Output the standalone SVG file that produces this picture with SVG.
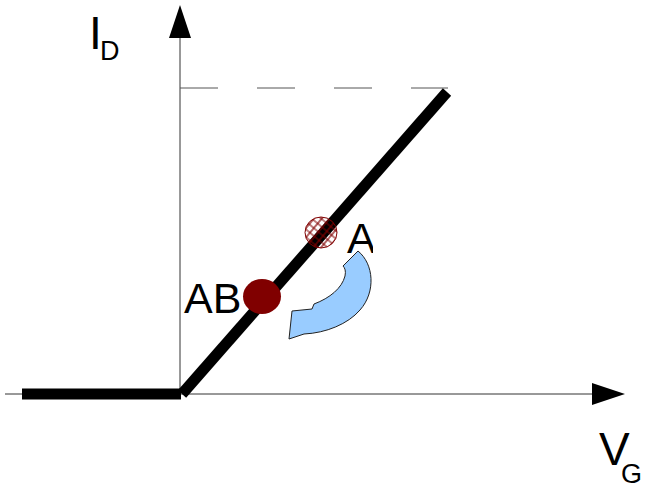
<svg xmlns="http://www.w3.org/2000/svg" width="647" height="486" viewBox="0 0 647 486">
  <style>
    .axis { stroke: #333; stroke-width: 1; fill: none; }
    .dash { stroke: #555; stroke-width: 1; fill: none; stroke-dasharray: 38 39; }
    .thick { stroke: #000; stroke-width: 11; fill: none; stroke-linecap: butt; }
    .lbl { font-family: "Liberation Sans", Arial, sans-serif; fill: #000; }
  </style>
  <defs>
    <pattern id="hatch" width="6" height="6" patternUnits="userSpaceOnUse" patternTransform="rotate(40)">
      <path d="M0 3H6M3 0V6" stroke="#800000" stroke-width="1.2"/>
    </pattern>
    <clipPath id="clipA"><rect x="330" y="200" width="43" height="70"/></clipPath>
  </defs>
  <rect width="647" height="486" fill="#fff"/>
  <g id="connectors">
    <line class="axis" x1="180" y1="394" x2="180" y2="36"/>
    <polygon points="180,5 169,38 191,38" fill="#000"/>
    <line class="axis" x1="5" y1="394" x2="594" y2="394"/>
    <polygon points="625,394 592,383 592,405" fill="#000"/>
    <line class="dash" x1="180" y1="88" x2="448" y2="88"/>
    <line class="thick" x1="22" y1="394" x2="181" y2="394"/>
    <line class="thick" x1="182" y1="394" x2="447" y2="92"/>
    <path d="M343,266 L358,251 C374,264 376,292 360,310 C348,324 326,333 304,334 L289,339 L292,311 L312,309 L314,304 C330,298 342,288 345,276 C346,271 345,268 343,266 Z" fill="#99ccff" stroke="#222" stroke-width="1"/>
  </g>
  <g id="pointA">
    <ellipse cx="321" cy="232.5" rx="16" ry="15.5" fill="url(#hatch)" stroke="#800000" stroke-width="1"/>
    <text class="lbl" x="347" y="253" font-size="43" clip-path="url(#clipA)">A</text>
  </g>
  <g id="pointAB">
    <ellipse cx="262" cy="296.5" rx="19" ry="17.5" fill="#800000"/>
    <text class="lbl" x="184" y="313" font-size="43">AB</text>
  </g>
  <g id="labelID">
    <text class="lbl" x="89" y="49" font-size="46">I</text>
    <text class="lbl" x="100" y="60" font-size="27">D</text>
  </g>
  <g id="labelVG">
    <text class="lbl" x="599" y="465" font-size="46">V</text>
    <text class="lbl" x="621" y="483" font-size="27">G</text>
  </g>
</svg>
